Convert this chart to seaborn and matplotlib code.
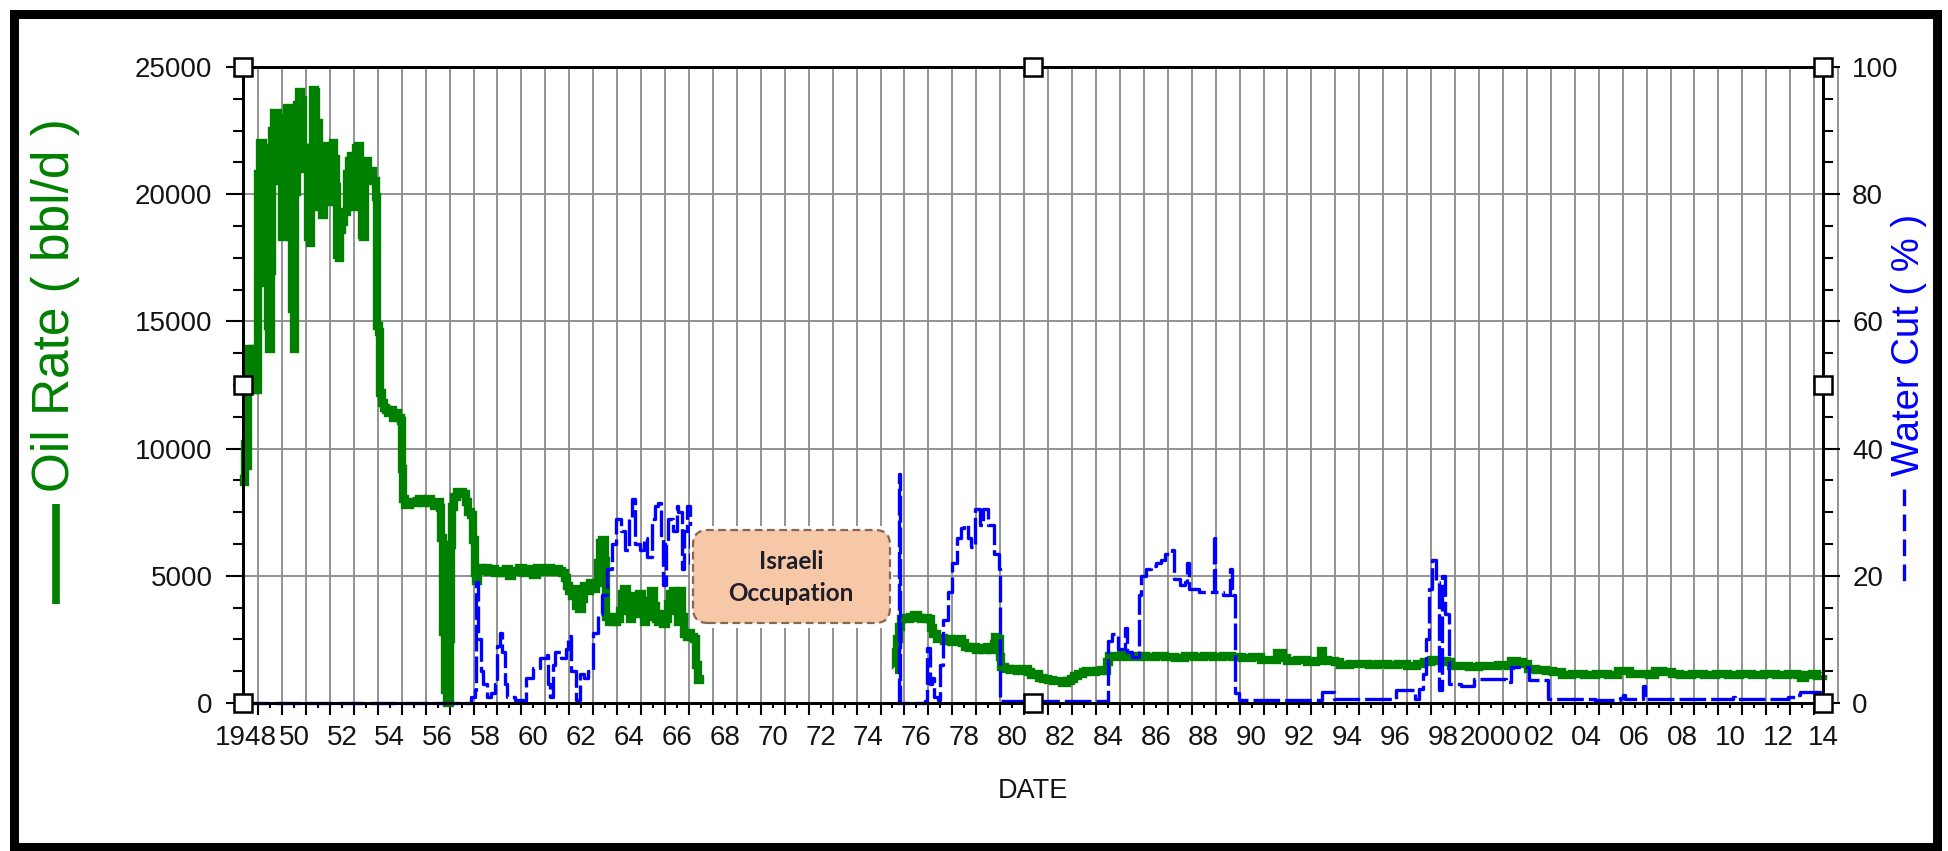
import numpy as np
import pandas as pd
import matplotlib
matplotlib.use("Agg")
import matplotlib.pyplot as plt
import seaborn as sns
from matplotlib import font_manager
from matplotlib.patches import FancyBboxPatch, Rectangle
from matplotlib.lines import Line2D
from matplotlib.ticker import FixedLocator, FixedFormatter, MultipleLocator, NullFormatter

# ---------------------------------------------------------------- data
# Monthly-ish production history (decimal years); NaN marks the shut-in gap.
oil_year = [
    1948.37, 1948.42, 1948.47, 1948.52, 1948.56, 1948.60, 1948.68, 1948.74, 1948.80, 1948.88,
    1948.95, 1949.00, 1949.05, 1949.10, 1949.20, 1949.28, 1949.36, 1949.40, 1949.46, 1949.52,
    1949.58, 1949.66, 1949.76, 1949.84, 1949.90, 1950.00, 1950.05, 1950.10, 1950.20, 1950.28,
    1950.34, 1950.42, 1950.48, 1950.55, 1950.62, 1950.72, 1950.80, 1950.86, 1950.94, 1951.02,
    1951.08, 1951.15, 1951.22, 1951.28, 1951.36, 1951.44, 1951.50, 1951.56, 1951.62, 1951.68,
    1951.76, 1951.84, 1951.92, 1952.00, 1952.04, 1952.12, 1952.18, 1952.24, 1952.30, 1952.36,
    1952.44, 1952.52, 1952.60, 1952.70, 1952.80, 1952.88, 1952.96, 1953.04, 1953.10, 1953.18,
    1953.26, 1953.32, 1953.40, 1953.48, 1953.60, 1953.70, 1953.82, 1953.94, 1953.97, 1954.04,
    1954.08, 1954.16, 1954.24, 1954.34, 1954.44, 1954.54, 1954.64, 1954.74, 1954.84, 1954.96,
    1955.02, 1955.06, 1955.14, 1955.24, 1955.36, 1955.50, 1955.62, 1955.74, 1955.86, 1955.98,
    1956.10, 1956.22, 1956.36, 1956.50, 1956.60, 1956.66, 1956.72, 1956.80, 1956.88, 1956.95,
    1957.00, 1957.05, 1957.10, 1957.20, 1957.30, 1957.42, 1957.55, 1957.68, 1957.78, 1957.90,
    1957.98, 1958.05, 1958.12, 1958.20, 1958.35, 1958.50, 1958.62, 1958.75, 1958.90, 1959.05,
    1959.20, 1959.35, 1959.50, 1959.62, 1959.75, 1959.90, 1960.05, 1960.20, 1960.35, 1960.50,
    1960.65, 1960.80, 1960.95, 1961.10, 1961.25, 1961.40, 1961.55, 1961.70, 1961.82, 1961.90,
    1962.00, 1962.10, 1962.20, 1962.30, 1962.42, 1962.52, 1962.62, 1962.75, 1962.88, 1963.00,
    1963.12, 1963.20, 1963.28, 1963.38, 1963.48, 1963.55, 1963.65, 1963.78, 1963.90, 1964.00,
    1964.10, 1964.20, 1964.30, 1964.40, 1964.52, 1964.62, 1964.72, 1964.82, 1964.92, 1965.02,
    1965.12, 1965.22, 1965.32, 1965.42, 1965.52, 1965.62, 1965.72, 1965.82, 1965.92, 1966.02,
    1966.12, 1966.22, 1966.32, 1966.42, 1966.52, 1966.62, 1966.72, 1966.80, 1966.90, 1967.00,
    1967.10, 1967.20, 1967.30, 1967.38, 1967.46,
    np.nan,
    1975.62, 1975.66, 1975.70, 1975.76, 1975.84, 1975.95, 1976.10, 1976.25, 1976.40, 1976.55,
    1976.70, 1976.85, 1977.00, 1977.10, 1977.20, 1977.35, 1977.50, 1977.65, 1977.80, 1977.95,
    1978.10, 1978.25, 1978.40, 1978.55, 1978.70, 1978.85, 1979.00, 1979.15, 1979.30, 1979.45,
    1979.60, 1979.72, 1979.80, 1979.90, 1979.98, 1980.05, 1980.20, 1980.40, 1980.55, 1980.70,
    1980.85, 1981.00, 1981.15, 1981.30, 1981.45, 1981.60, 1981.80, 1982.00, 1982.20, 1982.40,
    1982.60, 1982.80, 1982.95, 1983.10, 1983.25, 1983.45, 1983.60, 1983.80, 1984.00, 1984.20,
    1984.40, 1984.48, 1984.55, 1984.75, 1985.05, 1985.40, 1985.75, 1986.10, 1986.50, 1986.90,
    1987.30, 1987.70, 1988.10, 1988.50, 1988.90, 1989.30, 1989.70, 1990.10, 1990.50, 1990.90,
    1991.30, 1991.55, 1991.80, 1992.00, 1992.40, 1992.80, 1993.20, 1993.42, 1993.50, 1993.70,
    1994.00, 1994.20, 1994.60, 1995.00, 1995.40, 1995.80, 1996.20, 1996.60, 1997.00, 1997.40,
    1997.70, 1998.00, 1998.30, 1998.65, 1998.85, 1999.20, 1999.60, 2000.00, 2000.40, 2000.80,
    2001.20, 2001.35, 2001.60, 2001.85, 2002.05, 2002.40, 2002.80, 2003.10, 2003.45, 2003.90,
    2004.40, 2004.90, 2005.40, 2005.80, 2006.10, 2006.30, 2006.70, 2007.10, 2007.35, 2007.70,
    2008.05, 2008.40, 2008.90, 2009.40, 2009.90, 2010.40, 2010.90, 2011.40, 2011.90, 2012.40,
    2012.90, 2013.30, 2013.45, 2013.60, 2013.90, 2014.10, 2014.37,
]
oil_rate = [
    9000, 8700, 10200, 9300, 12800, 13900, 13500, 13900, 12300, 12500,
    12300, 20800, 16500, 22000, 21800, 21200, 21500, 14800, 13900, 17000,
    22500, 23200, 23200, 22600, 20500, 18300, 19500, 23000, 23400, 22300,
    18300, 15500, 13900, 20100, 23500, 24000, 23700, 21800, 21000, 21800,
    18300, 18100, 19500, 24100, 24000, 22300, 22800, 20800, 19500, 19200,
    21500, 21900, 21200, 19700, 21800, 22000, 21400, 20300, 17600, 17500,
    18600, 18900, 19300, 20800, 21300, 21500, 20500, 19500, 21800, 21900,
    20600, 18400, 18300, 21300, 20900, 20900, 20500, 19900, 14800, 14600,
    12200, 11800, 11600, 11500, 11400, 11500, 11200, 11400, 11200, 11100,
    9200, 8000, 7800, 7800, 7900, 7850, 7950, 8000, 7850, 7950,
    8000, 7850, 7750, 7900, 7650, 6500, 2800, 500, 0, 0,
    2500, 6200, 7700, 8100, 8300, 8300, 8200, 7900, 7500, 7400,
    6400, 5100, 4800, 5300, 5200, 5300, 5150, 5250, 5100, 5200,
    5100, 5250, 5000, 5200, 5150, 5300, 5100, 5250, 5200, 5050,
    5300, 5150, 5250, 5300, 5150, 5250, 5200, 5100, 4900, 4600,
    4400, 4200, 4500, 3800, 3700, 4100, 4600, 4400, 4700, 4500,
    4700, 5500, 6300, 6400, 5600, 3400, 3200, 3400, 3200, 3300,
    3600, 4300, 4500, 3800, 3300, 3500, 4200, 3900, 4300, 3500,
    3200, 3400, 4000, 4400, 3800, 3300, 3200, 3500, 3100, 3300,
    3900, 4300, 4400, 3600, 3200, 4400, 3400, 2700, 2600, 2750,
    2600, 2500, 1500, 900, 1100,
    np.nan,
    1300, 2000, 2500, 3000, 3300, 3350, 3300, 3400, 3450, 3350,
    3300, 3350, 3300, 2950, 2700, 2500, 2550, 2450, 2500, 2400,
    2450, 2500, 2350, 2200, 2150, 2200, 2100, 2150, 2100, 2200,
    2100, 2300, 2600, 2500, 1800, 1400, 1350, 1300, 1350, 1250,
    1300, 1350, 1200, 1100, 1150, 1000, 950, 900, 850, 850,
    800, 850, 950, 1050, 1150, 1200, 1250, 1200, 1250, 1300,
    1250, 1600, 1850, 1800, 1900, 1800, 1850, 1800, 1850, 1800,
    1750, 1850, 1800, 1850, 1800, 1850, 1800, 1750, 1800, 1700,
    1700, 1950, 1750, 1650, 1700, 1600, 1650, 2050, 1700, 1650,
    1600, 1500, 1550, 1550, 1500, 1550, 1500, 1550, 1450, 1550,
    1600, 1700, 1650, 1600, 1450, 1450, 1400, 1450, 1450, 1500,
    1450, 1650, 1600, 1550, 1350, 1300, 1250, 1200, 1100, 1150,
    1100, 1150, 1100, 1250, 1250, 1150, 1150, 1100, 1250, 1200,
    1150, 1100, 1150, 1100, 1150, 1100, 1150, 1100, 1150, 1100,
    1150, 1100, 1000, 1100, 1150, 1050, 1100,
]

wc_year = [
    1948.37, 1957.75, 1957.90, 1958.05, 1958.12, 1958.20, 1958.30, 1958.40, 1958.55, 1958.75,
    1958.90, 1959.00, 1959.10, 1959.20, 1959.30, 1959.40, 1959.72, 1960.07, 1960.21, 1960.49,
    1960.77, 1961.05, 1961.12, 1961.19, 1961.30, 1961.39, 1961.67, 1961.85, 1961.95, 1962.09,
    1962.27, 1962.44, 1962.60, 1962.79, 1963.00, 1963.21, 1963.35, 1963.56, 1963.77, 1963.97,
    1964.18, 1964.32, 1964.48, 1964.60, 1964.74, 1964.95, 1965.10, 1965.23, 1965.44, 1965.60,
    1965.72, 1965.85, 1965.93, 1966.05, 1966.14, 1966.35, 1966.50, 1966.56, 1966.69, 1966.80,
    1966.90, 1967.04, 1967.20, 1967.32,
    np.nan,
    1975.70, 1975.76, 1975.82, 1976.85, 1976.95, 1977.05, 1977.15, 1977.25, 1977.40, 1977.50,
    1977.63, 1977.84, 1978.00, 1978.20, 1978.35, 1978.50, 1978.65, 1978.80, 1978.95, 1979.15,
    1979.30, 1979.50, 1979.75, 1979.95, 1980.00, 1984.45, 1984.52, 1984.66, 1984.90, 1985.08,
    1985.20, 1985.30, 1985.50, 1985.70, 1985.78, 1985.90, 1986.10, 1986.30, 1986.50, 1986.70,
    1986.90, 1987.17, 1987.24, 1987.50, 1987.70, 1987.80, 1987.90, 1988.30, 1988.85, 1988.91,
    1988.98, 1989.30, 1989.50, 1989.61, 1989.68, 1989.82, 1989.96, 1993.37, 1993.44, 1993.86,
    1993.96, 1996.45, 1996.52, 1997.21, 1997.31, 1997.49, 1997.68, 1997.77, 1997.91, 1998.05,
    1998.19, 1998.33, 1998.47, 1998.57, 1998.75, 1999.24, 1999.80, 2000.64, 2001.13, 2001.34,
    2001.89, 2002.10, 2002.66, 2002.87, 2004.83, 2005.90, 2006.00, 2006.10, 2006.75, 2006.85,
    2006.92, 2010.50, 2010.60, 2010.70, 2012.80, 2012.90, 2013.20, 2013.40, 2014.37,
]
water_cut = [
    0, 0, 1, 2, 19, 10, 5, 3, 1, 1.5,
    3, 9, 11, 8, 3, 1, 0.5, 0.3, 4, 5.5,
    7, 7.5, 3, 1, 6, 8, 7, 8.5, 10.5, 5,
    0.5, 4.5, 4, 5, 11, 14, 17, 21, 25, 29,
    27, 24, 29, 32, 25, 24, 26, 23, 29, 31,
    31.5, 26, 18.5, 25, 29, 27, 31, 30, 21, 27,
    31, 22, 18, 12,
    np.nan,
    0, 36, 0, 0.3, 8.7, 3, 4, 1, 0.5, 6,
    13, 17.5, 22, 26, 27.5, 28, 26, 24.5, 30.5, 28,
    30.5, 28, 23.5, 21, 0.3, 0, 9.7, 10.8, 8.5, 8.5,
    11.8, 8, 7.2, 7.2, 17, 20, 21, 21.5, 22, 22.5,
    23.5, 24, 19.5, 18.5, 19, 22, 18, 17.5, 17.5, 26.4,
    17.5, 17, 17, 21, 17, 1.5, 0.5, 0.5, 1.8, 1.8,
    0.6, 0.6, 2, 2, 0.6, 2.2, 4.5, 10, 18, 22.5,
    19, 2, 20, 14, 3, 2.6, 3.8, 3.8, 3.3, 5.6,
    5.6, 3.6, 3.6, 0.6, 0.5, 0.8, 1.2, 0.6, 0.6, 2.6,
    0.6, 0.6, 1.0, 0.6, 0.6, 1.0, 1.2, 1.8, 1.8,
]

# axis scales and tick labels
date_start, date_end = 1948.37, 2014.37
rate_ticks = [0, 5000, 10000, 15000, 20000, 25000]
wc_ticks = [0, 20, 40, 60, 80, 100]
year_labelled = list(range(1948, 2015, 2))
year_labels = ["1948", "50", "52", "54", "56", "58", "60", "62", "64", "66", "68", "70",
               "72", "74", "76", "78", "80", "82", "84", "86", "88", "90", "92", "94",
               "96", "98", "2000", "02", "04", "06", "08", "10", "12", "14"]
annotation_text = "Israeli\nOccupation"

GREEN = "#008000"
BLUE = "#0000FF"
GRID = "#8a8a8a"
TEXT = "#141414"


def to_frame(years, values):
    years = np.asarray(years, float)
    values = np.asarray(values, float)
    seg = np.cumsum(np.isnan(values))
    keep = ~np.isnan(values)
    return pd.DataFrame({"year": years[keep], "value": values[keep], "seg": seg[keep]})


oil_df = to_frame(oil_year, oil_rate)
wc_df = to_frame(wc_year, water_cut)

# ---------------------------------------------------------------- style
sns.set_style("white")
installed = {f.name for f in font_manager.fontManager.ttflist}
TICK_FONT, TICK_SIZE = "Liberation Sans", 20
BOX_FONT = "Lato" if "Lato" in installed else "DejaVu Sans"
plt.rcParams["font.family"] = ["Liberation Sans", "DejaVu Sans"]

W_PX, H_PX = 1949, 851
fig = plt.figure(figsize=(W_PX / 100, H_PX / 100), dpi=100)
fig.patch.set_facecolor("white")

left_px, right_px, top_px, bottom_px = 243, 1823, 67, 703
ax = fig.add_axes([left_px / W_PX, 1 - bottom_px / H_PX,
                   (right_px - left_px) / W_PX, (bottom_px - top_px) / H_PX])
ax2 = ax.twinx()

# ---------------------------------------------------------------- series (stepped monthly values)
sns.lineplot(data=oil_df, x="year", y="value", units="seg", estimator=None,
             color=GREEN, lw=6.0, ax=ax, legend=False, clip_on=False,
             drawstyle="steps-post", solid_joinstyle="miter", solid_capstyle="butt")
sns.lineplot(data=wc_df, x="year", y="value", units="seg", estimator=None,
             color=BLUE, lw=2.4, ax=ax2, legend=False, clip_on=False,
             drawstyle="steps-post", linestyle=(0, (8, 1.5)))

# ---------------------------------------------------------------- axes
ax.set_xlim(date_start, date_end)
ax.set_ylim(rate_ticks[0], rate_ticks[-1])
ax2.set_ylim(wc_ticks[0], wc_ticks[-1])

ax.yaxis.set_major_locator(FixedLocator(rate_ticks))
ax.yaxis.set_minor_locator(MultipleLocator(1250))
ax2.yaxis.set_major_locator(FixedLocator(wc_ticks))
ax2.yaxis.set_minor_locator(MultipleLocator(5))

# year boundaries carry the grid; labels sit mid-year
ax.xaxis.set_major_locator(FixedLocator(np.arange(1949, 2015)))
ax.xaxis.set_major_formatter(NullFormatter())
label_of = dict(zip(year_labelled, year_labels))
minor_pos = list(np.arange(1948.5, 2014.0, 1.0)) + [date_end]
minor_lab = [label_of.get(int(np.floor(p)), "") for p in minor_pos]
ax.xaxis.set_minor_locator(FixedLocator(minor_pos))
ax.xaxis.set_minor_formatter(FixedFormatter(minor_lab))

ax.grid(which="major", axis="both", color=GRID, lw=1.3)
ax.set_axisbelow(True)
ax2.grid(False)
ax.axvline(2015, color=GRID, lw=1.3, clip_on=False, zorder=0.5)

for a in (ax, ax2):
    for sp in a.spines.values():
        sp.set_color("black")
        sp.set_linewidth(2.0)
        sp.set_visible(True)

ax.tick_params(axis="x", which="major", direction="out", length=8.6, width=1.5,
               color="black", bottom=True, top=False)
ax.tick_params(axis="x", which="minor", direction="out", length=3.6, width=1.5,
               color="black", pad=12, labelsize=TICK_SIZE, labelcolor=TEXT,
               labelfontfamily=TICK_FONT, bottom=True, top=False)
ax.tick_params(axis="y", which="major", direction="out", length=12, width=1.5,
               color="black", pad=10, labelsize=TICK_SIZE, labelcolor=TEXT,
               labelfontfamily=TICK_FONT, left=True, right=False)
ax.tick_params(axis="y", which="minor", direction="out", length=7.5, width=1.5,
               color="black", left=True, right=False)
ax2.tick_params(axis="y", which="major", direction="out", length=12, width=1.5,
                color="black", pad=9, labelsize=TICK_SIZE, labelcolor=TEXT,
                labelfontfamily=TICK_FONT, right=True, left=False)
ax2.tick_params(axis="y", which="minor", direction="out", length=7.5, width=1.5,
                color="black", right=True, left=False)

ax.set_ylabel("")
ax2.set_ylabel("")
ax.set_xlabel("DATE", fontsize=19.5, color=TEXT, family=TICK_FONT, labelpad=20)

# ---------------------------------------------------------------- axis titles with line keys
fig.text(56 / W_PX, 1 - 305 / H_PX, "Oil Rate ( bbl/d )", rotation=90, color=GREEN,
         fontsize=37, ha="center", va="center")
fig.add_artist(Line2D([56 / W_PX, 56 / W_PX], [1 - 504 / H_PX, 1 - 604 / H_PX],
                      transform=fig.transFigure, color=GREEN, lw=5.5,
                      solid_capstyle="butt"))
fig.text(1909 / W_PX, 1 - 345 / H_PX, "Water Cut ( % )", rotation=90, color=BLUE,
         fontsize=27.5, ha="center", va="center")
fig.add_artist(Line2D([1904 / W_PX, 1904 / W_PX], [1 - 489 / H_PX, 1 - 582 / H_PX],
                      transform=fig.transFigure, color=BLUE, lw=2.4,
                      linestyle=(0, (5, 2.5))))

# ---------------------------------------------------------------- annotation box
ax_w = right_px - left_px
ax_h = bottom_px - top_px
ax2.add_patch(Rectangle((0.2829, 0.1179), 0.4114 - 0.2829, 0.2783 - 0.1179,
                        transform=ax2.transAxes, facecolor="white", edgecolor="none",
                        zorder=5))
ax2.add_patch(FancyBboxPatch((0.2848, 0.1258), 0.4095 - 0.2848, 0.2720 - 0.1258,
                             boxstyle="round,pad=0,rounding_size=0.0095",
                             mutation_aspect=ax_w / ax_h,
                             transform=ax2.transAxes, facecolor="#F6C8A8",
                             edgecolor="#8C6450", lw=1.6, linestyle=(0, (3.5, 2)),
                             zorder=6))
ax2.text(0.347, 0.197, annotation_text, transform=ax2.transAxes, ha="center",
         va="center", fontsize=17.5, fontweight="bold", family=BOX_FONT,
         color="#1e1e28", linespacing=1.5, zorder=7)

# ---------------------------------------------------------------- selection handles
hx = [0, 0, 0, 0.5, 0.5, 1, 1, 1]
hy = [0, 0.5, 1, 0, 1, 0, 0.5, 1]
ax2.plot(hx, hy, ls="none", marker="s", ms=13, mfc="white", mec="black", mew=1.8,
         transform=ax2.transAxes, clip_on=False, zorder=10)

# ---------------------------------------------------------------- outer frame
fig.add_artist(Rectangle((14 / W_PX, 4 / H_PX), (1937 - 14) / W_PX, (842 - 9) / H_PX,
                         transform=fig.transFigure, fill=False, edgecolor="black",
                         lw=6.5, joinstyle="miter"))

fig.savefig("out.png", dpi=100, facecolor="white")
